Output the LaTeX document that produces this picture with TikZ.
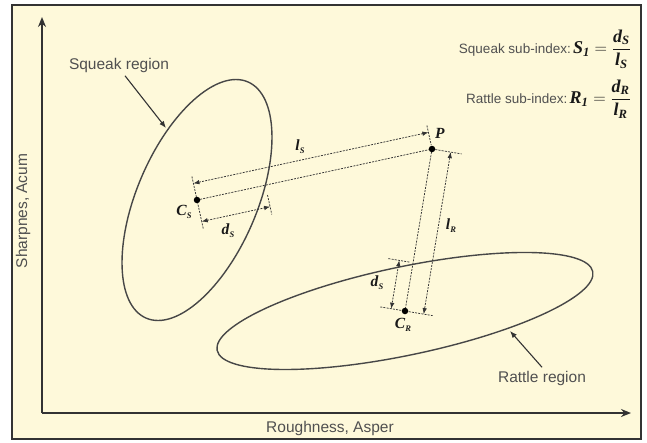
\documentclass[tikz,border=0pt]{standalone}
\usepackage{fontspec}
\usepackage{amsmath}
\setmainfont{Liberation Sans}
\newfontfamily\serfont{Liberation Serif}
\usetikzlibrary{arrows.meta}
\definecolor{bg}{HTML}{FEF9DA}
\definecolor{ink}{HTML}{333333}
\definecolor{txt}{HTML}{505050}
\newcommand\bi[1]{\text{\serfont\bfseries\itshape #1}}
\newcommand\lab[2]{{\serfont\bfseries\itshape #1\kern0.3pt\raisebox{-0.45ex}{\fontsize{8.5}{9}\selectfont #2}}}
\newcommand\formsize{\fontsize{13.5}{15}\selectfont}
\newcommand\mathsize{\fontsize{18}{20}\selectfont}
\begin{document}
\begin{tikzpicture}[x=1pt,y=-1pt,
  frame/.style={draw=ink, line width=1.4pt, fill=bg},
  axisline/.style={draw=ink, line width=1.9pt, -{Stealth[length=10pt,width=8pt]}},
  region/.style={draw=ink!90, line width=1.4pt},
  dimline/.style={draw=ink, line width=0.75pt, dash pattern=on 2pt off 1.2pt},
  dimarrow/.style={dimline, {Latex[length=6pt,width=4.5pt]}-{Latex[length=6pt,width=4.5pt]}},
  dot/.style={circle, fill=black, inner sep=0pt, minimum size=6.5pt},
  regtext/.style={text=txt, font=\fontsize{15.5}{17}\selectfont},
  formtext/.style={text=txt, inner sep=1pt},
  sym/.style={text=black!90, font=\fontsize{15.5}{17}\selectfont, inner sep=1pt},
  pointer/.style={draw=ink, line width=1.1pt, -{Latex[length=7pt,width=5.5pt]}}]
\useasboundingbox (0,0) rectangle (647,442);
\fill[white] (0,0) rectangle (647,442);
\draw[frame] (12,5) rectangle (641,439);

% axes
\coordinate (O) at (42,413);
\coordinate (Ytop) at (42,17);
\coordinate (Xend) at (631,413);
\draw[axisline] (O) -- (Ytop);
\draw[axisline] (O) -- (Xend);
\node[regtext] (xlab) at (330,428) {Roughness, Asper};
\node[regtext, rotate=90] (ylab) at (23,211) {Sharpnes, Acum};

% key points
\coordinate (CS) at (197,200);
\coordinate (CR) at (405,311);
\coordinate (P) at (432,149);

% regions
\draw[region, rotate around={66.7:(CS)}] (CS) ellipse [x radius=128.6pt, y radius=60pt];
\draw[region, rotate around={11.85:(CR)}] (CR) ellipse [x radius=191.9pt, y radius=44.2pt];

% squeak dimension geometry
\coordinate (lSa) at (193.4,183.4);  \coordinate (lSb) at (428.4,132.4);
\coordinate (dSa) at (201.7,221.5);  \coordinate (dSb) at (270.1,206.7);
\coordinate (tCSa) at (191.9,176.5); \coordinate (tCSb) at (203.4,229.3);
\coordinate (tPa) at (426.9,125.5);  \coordinate (tPb) at (431.2,145.1);
\coordinate (tdSa) at (267.5,195);   \coordinate (tdSb) at (271.8,214.5);
% rattle dimension geometry
\coordinate (lRa) at (450.7,152.1);  \coordinate (lRb) at (423.7,314.1);
\coordinate (tPRa) at (429,148.5);   \coordinate (tPRb) at (461.6,153.9);
\coordinate (tCRa) at (380.3,306.9); \coordinate (tCRb) at (432.6,315.6);
\coordinate (dRa) at (399.3,260.4);  \coordinate (dRb) at (391.2,308.7);
\coordinate (tdRa) at (388.4,258.6); \coordinate (tdRb) at (410.1,262.2);

\draw[dimline] (CS) -- (P);
\draw[dimline] (P) -- (CR);
\draw[dimline] (tCSa) -- (tCSb);
\draw[dimline] (tPa) -- (tPb);
\draw[dimline] (tdSa) -- (tdSb);
\draw[dimline] (tPRa) -- (tPRb);
\draw[dimline] (tCRa) -- (tCRb);
\draw[dimline] (tdRa) -- (tdRb);
\draw[dimarrow] (lSa) -- (lSb);
\draw[dimarrow] (dSa) -- (dSb);
\draw[dimarrow] (lRa) -- (lRb);
\draw[dimarrow] (dRa) -- (dRb);

\node[dot] (CSdot) at (CS) {};
\node[dot] (Pdot) at (P) {};
\node[dot] (CRdot) at (CR) {};

% symbol labels
\node[sym] (lSlab) at (300,147) {\lab{l}{S}};
\node[sym] (dSlab) at (228,231) {\lab{d}{S}};
\node[sym] (CSlab) at (184,212) {\lab{C}{S}};
\node[sym] (Plab) at (440,135) {\lab{P}{}};
\node[sym] (lRlab) at (451,226) {\lab{l}{R}};
\node[sym] (dRlab) at (377,283) {\lab{d}{S}};
\node[sym] (CRlab) at (403,325) {\lab{C}{R}};

% region labels
\node[regtext] (sqlab) at (119,65) {Squeak region};
\coordinate (sqtip) at (166,128);
\draw[pointer] ([xshift=6pt]sqlab.south) -- (sqtip);
\node[regtext] (ralab) at (542,378) {Rattle region};
\coordinate (ratip) at (510,331);
\draw[pointer] (ralab.north) -- (ratip);

% formulas
\node[formtext, anchor=east] (sqf) at (632,49) {\formsize Squeak sub-index:\,{\mathsize\color{black!90}$\bi{S}_{\bi{1}} = \dfrac{\bi{d}_{\bi{S}}}{\bi{l}_{\bi{S}}}$}};
\node[formtext, anchor=east] (raf) at (632,99) {\formsize Rattle sub-index:\,{\mathsize\color{black!90}$\bi{R}_{\bi{1}} = \dfrac{\bi{d}_{\bi{R}}}{\bi{l}_{\bi{R}}}$}};
\end{tikzpicture}
\end{document}
